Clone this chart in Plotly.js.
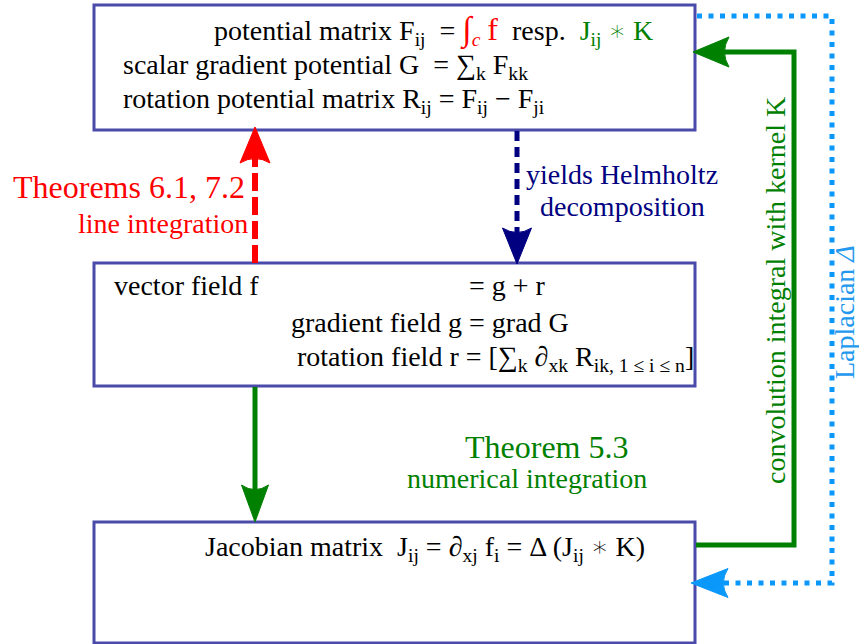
<!DOCTYPE html>
<html>
<head>
<meta charset="utf-8">
<script src="https://cdn.plot.ly/plotly-3.0.1.min.js"></script>
<style>html,body{margin:0;padding:0;background:#fff;}#chart{width:859px;height:644px;}</style>
</head>
<body>
<div id="chart"></div>
<script>
// ---- diagram content (texts) ----
const RED = "#ff0000", GREEN = "#008000", NAVY = "#000080", BLUE = "#0a98fa", BLUE_TXT = "#2299ee", BOX = "#4a4aaa";
const NB = "\u00A0";
const STAR = "<span style='font-family:DejaVu Sans ExtraLight, DejaVu Sans;font-weight:200'>∗</span>";

const topBoxLines = [
  "potential matrix F<sub>ij</sub>" + NB + NB + "= <span style='color:" + RED + "'><span style='font-size:34px'>∫</span><sub><i>c</i></sub> <span style='font-size:32px'>f</span></span>" + NB + NB + "resp." + NB + NB + "<span style='color:" + GREEN + "'>J<sub>ij</sub> " + STAR + " K</span>",
  "scalar gradient potential G" + NB + NB + "= ∑<sub>k</sub> F<sub>kk</sub>",
  "rotation potential matrix R<sub>ij</sub> = F<sub>ij</sub> − F<sub>ji</sub>"
];
const midBoxLines = [
  "vector field f",
  "= g + r",
  "gradient field g = grad G",
  "rotation field r = [∑<sub>k</sub> ∂<sub>xk</sub> R<sub>ik, 1 ≤ i ≤ n</sub>]"
];
const bottomBoxLines = [
  "Jacobian matrix" + NB + NB + "J<sub>ij</sub> = ∂<sub>xj</sub> f<sub>i</sub> = Δ (J<sub>ij</sub> " + STAR + " K)"
];
const edgeLabels = {
  theoremA: ["Theorems 6.1, 7.2", "line integration"],
  helmholtz: ["yields Helmholtz", "decomposition"],
  theoremB: ["Theorem 5.3", "numerical integration"],
  convolution: ["convolution integral with kernel K"],
  laplacian: ["Laplacian <i>Δ</i>"]
};

// ---- geometry (pixel space of the 859x644 canvas) ----
const boxes = [[94, 5, 695, 130], [94, 263, 695, 386], [94, 522, 695, 643]];

const FONT = "Liberation Serif, Times New Roman, serif";
function ann(text, x, y, opts) {
  return Object.assign({
    text: text, x: x, y: y, xref: "x", yref: "y", showarrow: false,
    xanchor: "left", yanchor: "middle",
    font: {family: FONT, size: 28, color: "#000"}
  }, opts || {});
}

const annotations = [
  ann(topBoxLines[0], 212, 30),
  ann(topBoxLines[1], 121, 66),
  ann(topBoxLines[2], 121, 100),
  ann(midBoxLines[0], 112, 285),
  ann(midBoxLines[1], 467, 285),
  ann(midBoxLines[2], 289, 322),
  ann(midBoxLines[3], 295, 358),
  ann(bottomBoxLines[0], 203, 548),
  ann(edgeLabels.theoremA[0], 247, 187, {xanchor: "right", font: {family: FONT, size: 32, color: RED}}),
  ann(edgeLabels.theoremA[1], 250, 223, {xanchor: "right", font: {family: FONT, size: 28, color: RED}}),
  ann(edgeLabels.helmholtz[0], 622, 174, {xanchor: "center", font: {family: FONT, size: 28, color: NAVY}}),
  ann(edgeLabels.helmholtz[1], 622, 206, {xanchor: "center", font: {family: FONT, size: 28, color: NAVY}}),
  ann(edgeLabels.theoremB[0], 463, 447, {font: {family: FONT, size: 32, color: GREEN}}),
  ann(edgeLabels.theoremB[1], 405, 478, {font: {family: FONT, size: 28, color: GREEN}}),
  ann(edgeLabels.convolution[0], 775, 291, {xanchor: "center", textangle: -90, font: {family: FONT, size: 28, color: GREEN}}),
  ann(edgeLabels.laplacian[0], 844, 312, {xanchor: "center", textangle: -90, font: {family: FONT, size: 28, color: BLUE_TXT}})
];

function head(tx, ty, dir, len, half, color) {
  // stealth-like arrowhead; dir: 'up','down','left'
  const notch = len * 0.25;
  let p;
  if (dir === "up") {
    p = `M ${tx} ${ty} L ${tx + half} ${ty + len} Q ${tx} ${ty + len - notch} ${tx - half} ${ty + len} Z`;
  } else if (dir === "down") {
    p = `M ${tx} ${ty} L ${tx + half} ${ty - len} Q ${tx} ${ty - len + notch} ${tx - half} ${ty - len} Z`;
  } else {
    p = `M ${tx} ${ty} L ${tx + len} ${ty - half} Q ${tx + len - notch} ${ty} ${tx + len} ${ty + half} Z`;
  }
  return {type: "path", path: p, xref: "x", yref: "y", fillcolor: color, line: {color: color, width: 1}};
}

const shapes = [];
boxes.forEach(b => shapes.push({type: "rect", xref: "x", yref: "y", x0: b[0], y0: b[1], x1: b[2], y1: b[3], line: {color: BOX, width: 3}, fillcolor: "rgba(0,0,0,0)"}));

// red dashed up arrow (box2 -> box1)
shapes.push({type: "line", xref: "x", yref: "y", x0: 255, y0: 263, x1: 255, y1: 158, line: {color: RED, width: 6, dash: "18px,6px"}});
shapes.push(head(255, 127, "up", 36, 15, RED));
// navy dashed down arrow (box1 -> box2)
shapes.push({type: "line", xref: "x", yref: "y", x0: 517, y0: 131, x1: 517, y1: 234, line: {color: NAVY, width: 5, dash: "10px,6px"}});
shapes.push(head(517, 264, "down", 36, 14.5, NAVY));
// green solid down arrow (box2 -> box3)
shapes.push({type: "line", xref: "x", yref: "y", x0: 255, y0: 387, x1: 255, y1: 495, line: {color: GREEN, width: 5}});
shapes.push(head(255, 522, "down", 37, 13.5, GREEN));
// green bracket (box3 -> box1)
shapes.push({type: "path", xref: "x", yref: "y", path: "M 696 545 L 794 545 L 794 52 L 722 52", line: {color: GREEN, width: 5}});
shapes.push(head(693, 52, "left", 36, 15, GREEN));
// blue dotted bracket (box1 -> box3)
shapes.push({type: "path", xref: "x", yref: "y", path: "M 697 16 L 832 16 L 832 583 L 722 583", line: {color: BLUE, width: 5, dash: "5px,6.5px"}});
shapes.push(head(691, 583, "left", 37, 14.5, BLUE));

const layout = {
  width: 859, height: 644,
  margin: {l: 0, r: 0, t: 0, b: 0},
  paper_bgcolor: "#ffffff", plot_bgcolor: "#ffffff",
  xaxis: {range: [0, 859], visible: false, fixedrange: true},
  yaxis: {range: [644, 0], visible: false, fixedrange: true},
  showlegend: false,
  shapes: shapes,
  annotations: annotations
};

Plotly.newPlot("chart", [], layout, {staticPlot: true, displayModeBar: false});
</script>
</body>
</html>
